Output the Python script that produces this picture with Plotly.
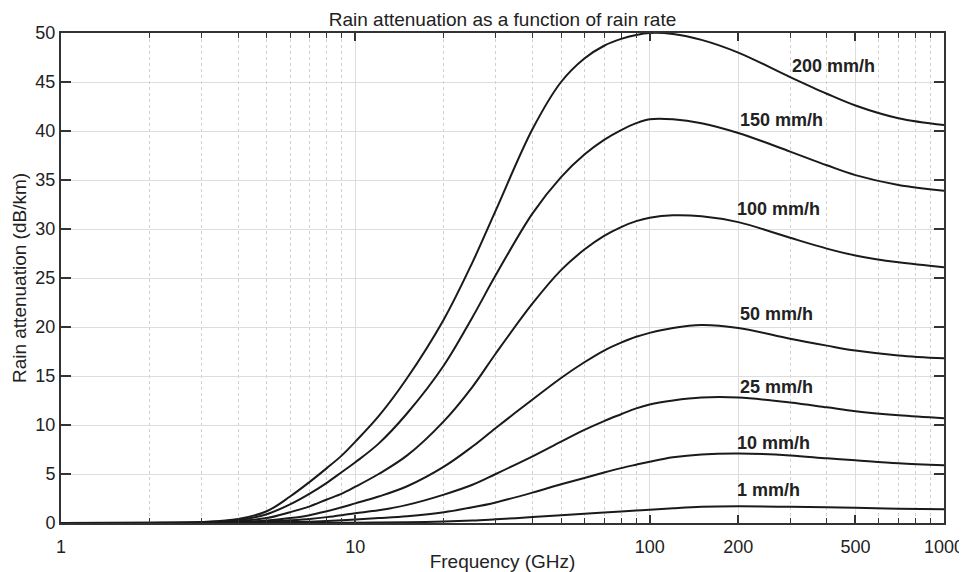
import math
import plotly.graph_objects as go

# Frequency (GHz)
freq = [1, 2, 3, 4, 5, 6, 7, 8, 9, 10, 12, 15, 20, 25, 30, 40, 50, 60, 70, 80, 90,
        100, 120, 150, 200, 300, 400, 500, 700, 1000]

# Rain attenuation (dB/km) per rain rate
att_200 = [0.0, 0.02, 0.1, 0.4, 1.2, 2.7, 4.2, 5.6, 6.9, 8.3, 10.9, 14.8, 20.8, 26.6, 31.9,
           40.2, 45.0, 47.4, 48.7, 49.4, 49.8, 50.0, 49.9, 49.3, 48.0, 45.5, 43.8, 42.6, 41.3, 40.6]
att_150 = [0.0, 0.02, 0.08, 0.3, 0.9, 1.9, 3.0, 4.1, 5.2, 6.2, 8.1, 11.2, 16.1, 21.0, 25.3,
           31.6, 35.3, 37.6, 39.1, 40.1, 40.8, 41.2, 41.2, 40.8, 39.8, 37.9, 36.5, 35.5, 34.5, 33.9]
att_100 = [0.0, 0.01, 0.05, 0.2, 0.5, 1.1, 1.7, 2.4, 3.0, 3.7, 5.0, 6.9, 10.4, 13.9, 17.3,
           22.4, 25.8, 27.9, 29.3, 30.2, 30.8, 31.15, 31.4, 31.3, 30.7, 29.1, 28.0, 27.3, 26.6, 26.1]
att_50 = [0.0, 0.005, 0.02, 0.1, 0.25, 0.5, 0.8, 1.2, 1.6, 2.0, 2.7, 3.75, 5.75, 7.8, 9.7,
          12.6, 14.8, 16.4, 17.6, 18.4, 19.0, 19.4, 19.9, 20.2, 19.9, 18.8, 18.1, 17.6, 17.1, 16.8]
att_25 = [0.0, 0.0, 0.01, 0.05, 0.15, 0.28, 0.42, 0.6, 0.8, 1.0, 1.3, 1.85, 2.9, 3.9, 5.0,
          6.8, 8.3, 9.5, 10.4, 11.1, 11.7, 12.1, 12.5, 12.8, 12.8, 12.3, 11.8, 11.4, 11.0, 10.7]
att_10 = [0.0, 0.0, 0.0, 0.02, 0.05, 0.09, 0.14, 0.2, 0.27, 0.35, 0.5, 0.7, 1.1, 1.6, 2.1,
          3.1, 3.95, 4.6, 5.15, 5.6, 5.95, 6.25, 6.7, 7.0, 7.1, 6.9, 6.6, 6.4, 6.1, 5.9]
att_1 = [0.0, 0.0, 0.0, 0.0, 0.0, 0.005, 0.01, 0.015, 0.02, 0.03, 0.05, 0.08, 0.15, 0.25, 0.38,
         0.6, 0.8, 0.95, 1.08, 1.18, 1.27, 1.35, 1.5, 1.65, 1.7, 1.65, 1.6, 1.55, 1.45, 1.4]

series = [att_200, att_150, att_100, att_50, att_25, att_10, att_1]
labels = ["200 mm/h", "150 mm/h", "100 mm/h", "50 mm/h", "25 mm/h", "10 mm/h", "1 mm/h"]
label_x = [300, 200, 195, 200, 200, 195, 195]
label_y = [46.6, 41.1, 32.0, 21.3, 13.9, 8.2, 3.4]

x_tickvals = [1, 10, 100, 200, 500, 1000]
x_ticktext = ["1", "10", "100", "200", "500", "1000"]
x_minor = [2, 3, 4, 5, 6, 7, 8, 9, 20, 30, 40, 50, 60, 70, 80, 90, 300, 400, 600, 700, 800, 900]

FONT = "Liberation Sans, Arial, sans-serif"
INK = "#222222"

# the page body adds an 8px offset; size the figure to fit the window
W, H = 959, 564

fig = go.Figure()
for name, ys in zip(labels, series):
    fig.add_trace(go.Scatter(x=freq, y=ys, mode="lines", name=name,
                             line=dict(color="#1a1a1a", width=2, shape="spline", smoothing=1.0),
                             showlegend=False, hoverinfo="skip"))

for t, lx, ly in zip(labels, label_x, label_y):
    fig.add_annotation(x=math.log10(lx), y=ly, text="<b>%s</b>" % t, showarrow=False,
                       xanchor="left", yanchor="middle",
                       font=dict(family=FONT, size=18, color=INK))

fig.update_layout(
    width=W, height=H,
    margin=dict(l=53, r=23, t=25, b=49, autoexpand=False),
    paper_bgcolor="white", plot_bgcolor="white",
    font=dict(family=FONT, color=INK),
    title=dict(text="Rain attenuation as a function of rain rate",
               x=0.5, xref="paper", xanchor="center",
               y=1 - 11 / H, yref="container", yanchor="middle",
               font=dict(family=FONT, size=19, color=INK)),
)

fig.update_xaxes(
    type="log", range=[0, 3], automargin=False,
    tickmode="array", tickvals=x_tickvals, ticktext=x_ticktext,
    ticks="inside", ticklen=8, tickwidth=1.5, tickcolor="#333333",
    showline=True, linecolor="#333333", linewidth=2, mirror="ticks",
    showgrid=True, gridcolor="#dddddd", gridwidth=1, zeroline=False,
    tickfont=dict(family=FONT, size=18, color=INK),
    ticklabelstandoff=6,
    minor=dict(tickvals=x_minor, ticks="inside", ticklen=5, tickwidth=1, tickcolor="#333333",
               showgrid=True, griddash="dot", gridcolor="#cfcfcf", gridwidth=1),
    title=dict(text="Frequency (GHz)", standoff=2, font=dict(family=FONT, size=19, color=INK)),
)

fig.update_yaxes(
    range=[0, 50], tickmode="linear", tick0=0, dtick=5, automargin=False,
    ticks="inside", ticklen=10, tickwidth=1.5, tickcolor="#333333",
    showline=True, linecolor="#333333", linewidth=2, mirror="ticks",
    showgrid=True, gridcolor="#dddddd", gridwidth=1, zeroline=False,
    tickfont=dict(family=FONT, size=18, color=INK),
    title=dict(text="Rain attenuation (dB/km)", standoff=4, font=dict(family=FONT, size=19, color=INK)),
)

fig.write_html("out.html")
